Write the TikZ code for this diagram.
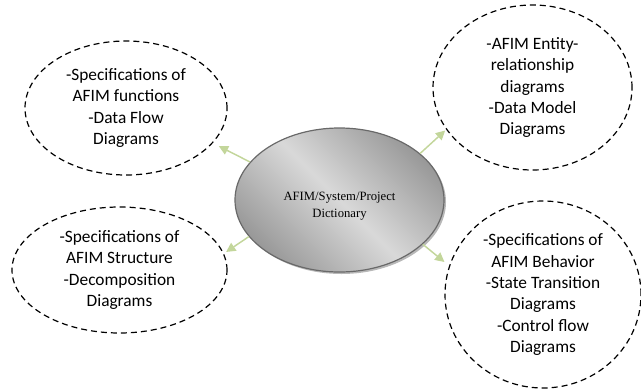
\documentclass[tikz,border=0pt]{standalone}
\usepackage{fontspec}
\setmainfont{Liberation Serif}
\newfontfamily\calibri{Carlito}
\usetikzlibrary{arrows.meta,shapes.geometric,shadows}
\definecolor{arrowgreen}{RGB}{195,214,155}
\definecolor{rimgray}{RGB}{105,105,105}

\begin{document}
\begin{tikzpicture}[x=0.75pt,y=-0.75pt,>={Triangle[length=7pt,width=7pt]},
	side node/.style={ellipse,draw,dash pattern=on 4.5pt off 3pt,line width=0.9pt,inner sep=0pt,align=center,font=\calibri\fontsize{13}{16}\selectfont},
	hub node/.style={ellipse,draw=rimgray,line width=0.9pt,inner sep=0pt,top color=gray!80,bottom color=gray!80,middle color=gray!30,shading angle=-45,
		drop shadow={shadow xshift=1.5pt,shadow yshift=-1.5pt,fill=gray!70,opacity=0.8}},
	link/.style={->,color=arrowgreen,line width=1.1pt}]

	\useasboundingbox (0,0) rectangle (641,389);

	\node[hub node,minimum width=156.75pt,minimum height=108pt,
		label={[font=\fontsize{9.5}{12.75}\selectfont,align=center,yshift=-4.5pt]center:AFIM/System/Project\\Dictionary}] (dict) at (339.5,200) {};

	\node[side node,minimum width=151.5pt,minimum height=100.5pt] (func) at (126,108) {-Specifications of\\AFIM functions\\-Data Flow\\Diagrams};
	\node[side node,minimum width=149.25pt,minimum height=123.75pt] (model) at (532.5,87.5) {-AFIM Entity-\\relationship\\diagrams\\-Data Model\\Diagrams};
	\node[side node,minimum width=161.25pt,minimum height=94.5pt] (struct) at (119.5,270) {-Specifications of\\AFIM Structure\\-Decomposition\\Diagrams};
	\node[side node,minimum width=147pt,minimum height=140.25pt] (behav) at (543,294.5) {-Specifications of\\AFIM Behavior\\-State Transition\\Diagrams\\-Control flow\\Diagrams};

	\draw[link,shorten >=5pt] (dict.157) -- (func.-22);
	\draw[link,shorten >=1pt] (dict.30) -- (model.-154);
	\draw[link,shorten >=2pt] (dict.202) -- (struct.9);
	\draw[link,shorten >=4.5pt] (dict.-28) -- (behav.163);

\end{tikzpicture}
\end{document}
